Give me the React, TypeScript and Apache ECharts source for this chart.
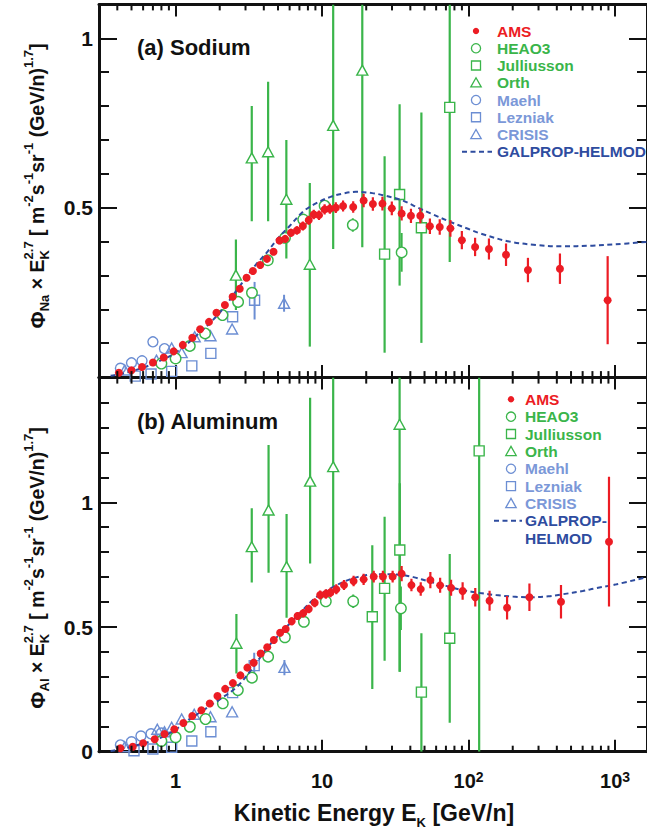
import React, { useEffect, useRef } from 'react';
import * as echarts from 'echarts';

const FONT = '"Liberation Sans", Arial, Helvetica, sans-serif';
const BLACK = '#111111';
const RED = '#ec1c24';
const GREEN = '#3ab54a';
const LBLUE = '#6c8ed3';
const LBLUE_TXT = '#7b98d8';
const DBLUE = '#2e4c9f';

// ---------- axes ----------
const X_MIN = 0.3;
const X_MAX = 1650;
const NA_Y_MAX = 1.1;
const AL_Y_MAX = 1.5;
const xTickValues = [1, 10, 100, 1000];
const xTickBase = ['1', '10', '10', '10'];
const xTickExp = ['', '', '2', '3'];
const xMinorTicks = [0.4, 0.5, 0.6, 0.7, 0.8, 0.9, 2, 3, 4, 5, 6, 7, 8, 9, 20, 30, 40, 50, 60, 70, 80, 90, 200, 300, 400, 500, 600, 700, 800, 900];
const naYTicks = [0.5, 1];
const naYTickLabels = ['0.5', '1'];
const alYTicks = [0, 0.5, 1];
const alYTickLabels = ['0', '0.5', '1'];

// ---------- (a) Sodium ----------
const naAmsE = [0.41, 0.50, 0.59, 0.70, 0.83, 0.97, 1.12, 1.30, 1.47, 1.69, 1.90, 2.17, 2.45, 2.74, 3.05, 3.37, 3.78, 4.20, 4.66, 5.12, 5.59, 6.13, 6.73, 7.39, 8.10, 8.77, 9.52, 10.4, 11.3, 12.4, 13.9, 16.3, 19.2, 22.2, 25.8, 29.9, 34.9, 40.4, 46.8, 54.4, 63.5, 75.1, 89.9, 110.7, 137.6, 180, 254, 420, 889];
const naAmsV = [0.013, 0.020, 0.030, 0.043, 0.058, 0.076, 0.095, 0.116, 0.141, 0.163, 0.190, 0.213, 0.237, 0.261, 0.293, 0.313, 0.331, 0.349, 0.370, 0.403, 0.408, 0.426, 0.433, 0.446, 0.463, 0.480, 0.478, 0.495, 0.497, 0.500, 0.505, 0.502, 0.521, 0.511, 0.512, 0.498, 0.483, 0.476, 0.476, 0.445, 0.443, 0.439, 0.404, 0.384, 0.378, 0.361, 0.316, 0.320, 0.227];
const naAmsErr = [0.003, 0.003, 0.003, 0.003, 0.003, 0.003, 0.004, 0.004, 0.004, 0.004, 0.005, 0.005, 0.005, 0.006, 0.006, 0.007, 0.008, 0.009, 0.010, 0.011, 0.011, 0.012, 0.012, 0.013, 0.013, 0.014, 0.014, 0.015, 0.015, 0.016, 0.016, 0.017, 0.020, 0.020, 0.020, 0.020, 0.021, 0.021, 0.022, 0.023, 0.023, 0.025, 0.027, 0.027, 0.031, 0.033, 0.036, 0.045, 0.13];

const naHeaoE = [0.80, 1.0, 1.25, 1.59, 2.09, 2.67, 3.32, 4.26, 5.58, 7.43, 10.4, 16.2, 34.9];
const naHeaoV = [0.040, 0.055, 0.092, 0.129, 0.183, 0.222, 0.249, 0.345, 0.411, 0.465, 0.506, 0.449, 0.368];
const naHeaoErr = [0, 0, 0, 0, 0, 0, 0, 0, 0, 0, 0, 0.02, 0.057];

const naJulE = [26.7, 33.8, 47.6, 74.3];
const naJulV = [0.363, 0.539, 0.441, 0.796];
const naJulLo = [0.072, 0.27, 0.101, 0.34];
const naJulHi = [0.652, 0.805, 0.781, 1.3];

const naOrthE = [2.58, 3.31, 4.28, 5.70, 8.24, 11.9, 18.8];
const naOrthV = [0.301, 0.647, 0.665, 0.525, 0.333, 0.743, 0.906];
const naOrthLo = [0.198, 0.46, 0.46, 0.35, 0.09, 0.378, 0.383];
const naOrthHi = [0.406, 0.80, 0.872, 0.70, 0.573, 1.3, 1.3];

const naMaehlE = [0.42, 0.50, 0.59, 0.70, 0.84];
const naMaehlV = [0.026, 0.042, 0.048, 0.104, 0.084];

const naLezE = [0.53, 0.68, 0.94, 1.29, 1.74, 2.45, 3.46];
const naLezV = [0.003, 0.009, 0.017, 0.033, 0.070, 0.178, 0.227];
const naLezLo = [null, null, null, null, null, null, 0.170];
const naLezHi = [null, null, null, null, null, null, 0.281];

const naCrisisE = [0.45, 0.74, 0.94, 1.10, 1.35, 1.73, 2.43, 5.50];
const naCrisisV = [0.021, 0.050, 0.086, 0.072, 0.119, 0.122, 0.142, 0.218];
const naCrisisErr = [0, 0, 0, 0, 0, 0, 0, 0.025];

const naGalE = [0.36, 0.45, 0.6, 0.8, 1.0, 1.4, 2.0, 2.6, 3.5, 4.2, 5.0, 6.0, 7.4, 9, 11.4, 14, 17, 22, 26, 35, 45, 55, 75, 100, 120, 190, 290, 430, 700, 1000, 1650];
const naGalV = [0.004, 0.012, 0.028, 0.05, 0.072, 0.124, 0.19, 0.255, 0.33, 0.368, 0.41, 0.446, 0.488, 0.512, 0.532, 0.542, 0.547, 0.543, 0.537, 0.522, 0.50, 0.483, 0.458, 0.437, 0.424, 0.40, 0.39, 0.386, 0.388, 0.392, 0.399];

// ---------- (b) Aluminum ----------
const alAmsE = [0.42, 0.51, 0.60, 0.72, 0.84, 0.98, 1.13, 1.30, 1.50, 1.71, 1.93, 2.18, 2.46, 2.77, 3.09, 3.41, 3.81, 4.22, 4.68, 5.17, 5.64, 6.2, 6.8, 7.43, 8.1, 8.9, 9.7, 10.6, 11.4, 12.5, 14.1, 16.4, 19.2, 22.5, 26, 30.3, 34.9, 40.7, 47.1, 54.8, 63.9, 75.9, 91, 111, 139, 183, 260, 427, 908];
const alAmsV = [0.014, 0.020, 0.034, 0.050, 0.071, 0.090, 0.115, 0.143, 0.166, 0.193, 0.223, 0.252, 0.275, 0.306, 0.337, 0.357, 0.394, 0.419, 0.448, 0.477, 0.492, 0.523, 0.544, 0.555, 0.572, 0.597, 0.628, 0.632, 0.638, 0.651, 0.668, 0.684, 0.691, 0.702, 0.702, 0.702, 0.714, 0.668, 0.652, 0.688, 0.667, 0.657, 0.644, 0.619, 0.605, 0.577, 0.619, 0.601, 0.842];
const alAmsErr = [0.004, 0.004, 0.004, 0.004, 0.004, 0.004, 0.005, 0.005, 0.005, 0.006, 0.006, 0.007, 0.007, 0.008, 0.009, 0.010, 0.011, 0.012, 0.013, 0.014, 0.015, 0.016, 0.016, 0.017, 0.017, 0.018, 0.018, 0.019, 0.019, 0.020, 0.020, 0.021, 0.023, 0.024, 0.024, 0.024, 0.031, 0.025, 0.027, 0.033, 0.030, 0.032, 0.035, 0.037, 0.040, 0.047, 0.055, 0.067, 0.26];

const alHeaoE = [0.80, 1.0, 1.25, 1.60, 2.10, 2.66, 3.32, 4.28, 5.57, 7.51, 10.6, 16.3, 34.5];
const alHeaoV = [0.043, 0.058, 0.100, 0.131, 0.194, 0.247, 0.297, 0.381, 0.459, 0.521, 0.603, 0.603, 0.575];
const alHeaoErr = [0, 0, 0, 0, 0, 0, 0, 0, 0, 0, 0, 0.027, 0.087];

const alJulE = [22, 26.7, 33.9, 47.6, 74.3, 118];
const alJulV = [0.541, 0.655, 0.809, 0.239, 0.455, 1.206];
const alJulLo = [0.251, 0.365, 0.321, -0.1, 0.116, -0.1];
const alJulHi = [0.828, 0.942, 1.076, 0.475, 0.793, 1.7];

const alOrthE = [2.60, 3.31, 4.31, 5.72, 8.28, 11.9, 33.8];
const alOrthV = [0.435, 0.822, 0.969, 0.742, 1.085, 1.143, 1.313];
const alOrthLo = [0.314, 0.678, 0.718, 0.537, 0.755, 0.662, 0.321];
const alOrthHi = [0.552, 0.976, 1.23, 0.953, 1.419, 1.7, 1.7];

const alMaehlE = [0.42, 0.50, 0.58, 0.68, 0.80];
const alMaehlV = [0.027, 0.040, 0.063, 0.072, 0.075];

const alLezE = [0.52, 0.70, 0.94, 1.29, 1.74, 2.45, 3.44];
const alLezV = [0.004, 0.011, 0.018, 0.043, 0.080, 0.237, 0.345];
const alLezLo = [null, null, null, null, null, null, 0.287];
const alLezHi = [null, null, null, null, null, null, 0.397];

const alCrisisE = [0.45, 0.75, 0.84, 0.94, 1.10, 1.34, 1.73, 2.43, 5.53];
const alCrisisV = [0.020, 0.090, 0.080, 0.098, 0.131, 0.150, 0.140, 0.160, 0.338];
const alCrisisLo = [null, null, null, null, null, null, null, null, 0.307];
const alCrisisHi = [null, null, null, null, null, null, null, null, 0.368];

const alGalE = [0.36, 0.5, 0.84, 1.41, 2.0, 2.63, 3.4, 4.2, 5.5, 6.7, 8.8, 11.4, 15, 19.2, 25, 32, 42, 54, 70, 91, 120, 154, 200, 260, 350, 435, 600, 730, 1000, 1650];
const alGalV = [0.003, 0.02, 0.063, 0.151, 0.21, 0.261, 0.34, 0.415, 0.49, 0.541, 0.612, 0.655, 0.688, 0.706, 0.712, 0.711, 0.70, 0.682, 0.665, 0.648, 0.636, 0.628, 0.622, 0.619, 0.623, 0.631, 0.644, 0.655, 0.67, 0.70];

// ---------- legend ----------
const legendNames = ['AMS', 'HEAO3', 'Julliusson', 'Orth', 'Maehl', 'Lezniak', 'CRISIS'];
const legendColors = [RED, GREEN, GREEN, GREEN, LBLUE_TXT, LBLUE_TXT, LBLUE_TXT];
const legendMarkers = ['dot', 'circle', 'square', 'triangle', 'circle', 'square', 'triangle'];
const modelName = 'GALPROP-HELMOD';

// ---------- helpers ----------
const zip = (E: number[], V: number[]) => E.map((e, i) => [e, V[i]]);
const barsErr = (E: number[], V: number[], err: number[]) =>
  E.map((e, i) => [e, V[i] - err[i], V[i] + err[i], err[i]]).filter((d) => d[3] > 0).map((d) => [d[0], d[1], d[2]]);
const barsLH = (E: number[], lo: (number | null)[], hi: (number | null)[]) =>
  E.map((e, i) => [e, lo[i], hi[i]]).filter((d) => d[1] !== null) as number[][];

function errSeries(name: string, data: number[][], color: string, width: number, xi: number, yi: number, z: number) {
  return {
    type: 'custom', name, xAxisIndex: xi, yAxisIndex: yi, silent: true, z, clip: true,
    data, encode: { x: 0, y: [1, 2] },
    renderItem: (params: any, api: any) => {
      const cs = params.coordSys;
      const p1 = api.coord([api.value(0), api.value(1)]);
      const p2 = api.coord([api.value(0), api.value(2)]);
      const clamp = (y: number) => Math.min(Math.max(y, cs.y), cs.y + cs.height);
      return { type: 'line', shape: { x1: p1[0], y1: clamp(p1[1]), x2: p2[0], y2: clamp(p2[1]) }, style: { stroke: color, lineWidth: width } };
    },
  };
}

function scatterSeries(name: string, data: number[][], symbol: string, size: any, fill: string, stroke: string | null, xi: number, yi: number, z: number) {
  return {
    type: 'scatter', name, xAxisIndex: xi, yAxisIndex: yi, symbol, symbolSize: size, z, silent: true,
    data,
    itemStyle: { color: fill, borderColor: stroke || fill, borderWidth: stroke ? 1.4 : 0, opacity: 1 },
  };
}

function minorTickSeries(xi: number, yi: number) {
  return {
    type: 'custom', xAxisIndex: xi, yAxisIndex: yi, silent: true, z: 10, clip: false,
    data: xMinorTicks.map((v) => [v, 0]),
    renderItem: (params: any, api: any) => {
      const cs = params.coordSys;
      const x = api.coord([api.value(0), 0])[0];
      return {
        type: 'group', children: [
          { type: 'line', shape: { x1: x, y1: cs.y + cs.height, x2: x, y2: cs.y + cs.height - 6 }, style: { stroke: BLACK, lineWidth: 2 } },
          { type: 'line', shape: { x1: x, y1: cs.y, x2: x, y2: cs.y + 6 }, style: { stroke: BLACK, lineWidth: 2 } },
        ],
      };
    },
  };
}

type Seg = { t: string; s: number; dy: number; stack?: boolean };
function buildMath(segs: Seg[], color: string) {
  const ctx = document.createElement('canvas').getContext('2d') as CanvasRenderingContext2D;
  const widths = segs.map((sg) => { ctx.font = `bold ${sg.s}px ${FONT}`; return ctx.measureText(sg.t).width; });
  const xs: number[] = [];
  let cursor = 0;
  let lastStart = 0;
  segs.forEach((sg, i) => {
    if (sg.stack) { xs.push(lastStart); cursor = Math.max(cursor, lastStart + widths[i]); }
    else { xs.push(cursor); lastStart = cursor; cursor += widths[i]; }
  });
  const total = cursor;
  return segs.map((sg, i) => ({
    type: 'text', x: xs[i] - total / 2, y: sg.dy,
    style: { text: sg.t, fontSize: sg.s, fontWeight: 'bold', fontFamily: FONT, fill: color, align: 'left', verticalAlign: 'middle', textAlign: 'left', textVerticalAlign: 'middle' },
  }));
}

function yTitleSegs(el: string): Seg[] {
  return [
    { t: 'Φ', s: 21, dy: 0 },
    { t: el, s: 13, dy: 7 },
    { t: ' × E', s: 19.5, dy: 0 },
    { t: 'K', s: 13, dy: 7 },
    { t: '2.7', s: 13, dy: -9, stack: true },
    { t: ' [ m', s: 19.5, dy: 0 },
    { t: '-2', s: 13, dy: -9 },
    { t: 's', s: 19.5, dy: 0 },
    { t: '-1', s: 13, dy: -9 },
    { t: 'sr', s: 19.5, dy: 0 },
    { t: '-1', s: 13, dy: -9 },
    { t: ' (GeV/n)', s: 19.5, dy: 0 },
    { t: '1.7', s: 13, dy: -9 },
    { t: ']', s: 19.5, dy: 0 },
  ];
}

function legendGraphics(mx: number, tx: number, y0: number, step: number, lineX1: number, lineX2: number, modelLines: string[]) {
  const els: any[] = [];
  legendNames.forEach((name, i) => {
    const y = y0 + i * step;
    const col = i === 0 ? RED : i < 4 ? GREEN : LBLUE;
    const m = legendMarkers[i];
    if (m === 'dot') els.push({ type: 'circle', shape: { cx: mx, cy: y, r: 3.2 }, style: { fill: col } });
    if (m === 'circle') els.push({ type: 'circle', shape: { cx: mx, cy: y, r: 4.6 }, style: { fill: 'none', stroke: col, lineWidth: 1.3 } });
    if (m === 'square') els.push({ type: 'rect', shape: { x: mx - 4.5, y: y - 4.5, width: 9, height: 9 }, style: { fill: 'none', stroke: col, lineWidth: 1.3 } });
    if (m === 'triangle') els.push({ type: 'polygon', shape: { points: [[mx, y - 5], [mx - 5.2, y + 4.2], [mx + 5.2, y + 4.2]] }, style: { fill: 'none', stroke: col, lineWidth: 1.3 } });
    els.push({ type: 'text', x: tx, y, style: { text: name, fontSize: 15.5, fontWeight: 'bold', fontFamily: FONT, fill: legendColors[i], align: 'left', verticalAlign: 'middle', textAlign: 'left', textVerticalAlign: 'middle' } });
  });
  const yl = y0 + legendNames.length * step;
  els.push({ type: 'line', shape: { x1: lineX1, y1: yl, x2: lineX2, y2: yl }, style: { stroke: DBLUE, lineWidth: 2, lineDash: [5, 3.5] } });
  modelLines.forEach((t, k) => {
    els.push({ type: 'text', x: tx, y: yl + k * step, style: { text: t, fontSize: 15.5, fontWeight: 'bold', fontFamily: FONT, fill: DBLUE, align: 'left', verticalAlign: 'middle', textAlign: 'left', textVerticalAlign: 'middle' } });
  });
  return els;
}

function buildOption() {
  const xAxis = (gridIndex: number, position: string, labels: boolean) => ({
    type: 'log', logBase: 10, gridIndex, position, min: X_MIN, max: X_MAX,
    axisLine: { show: true, onZero: false, lineStyle: { color: BLACK, width: 3 } },
    axisTick: { show: true, inside: true, length: 12, lineStyle: { color: BLACK, width: 2 } },
    splitLine: { show: false },
    axisLabel: labels ? {
      show: true, margin: 18, showMinLabel: false, showMaxLabel: false,
      formatter: (v: number) => {
        const i = xTickValues.findIndex((t) => Math.abs(Math.log10(v / t)) < 0.01);
        if (i < 0) return '';
        return xTickExp[i] ? `{b|${xTickBase[i]}}{sup|${xTickExp[i]}}` : `{b|${xTickBase[i]}}`;
      },
      rich: {
        b: { fontSize: 20, fontWeight: 'bold', fontFamily: FONT, color: BLACK, lineHeight: 22 },
        sup: { fontSize: 14, fontWeight: 'bold', fontFamily: FONT, color: BLACK, lineHeight: 14, verticalAlign: 'top' },
      },
    } : { show: false },
  });
  const yMajor = (gridIndex: number, position: string, max: number, ticks: number[] | null, labels: string[] | null) => ({
    type: 'value', gridIndex, position, min: 0, max, interval: 0.5,
    axisLine: { show: true, onZero: false, lineStyle: { color: BLACK, width: 3 } },
    axisTick: { show: true, inside: true, length: 18, lineStyle: { color: BLACK, width: 2 } },
    splitLine: { show: false },
    axisLabel: ticks ? {
      show: true, margin: 6, fontSize: 21, fontWeight: 'bold', fontFamily: FONT, color: BLACK,
      showMaxLabel: false,
      formatter: (v: number) => { const i = ticks.findIndex((t) => Math.abs(t - v) < 1e-6); return i < 0 ? '' : (labels as string[])[i]; },
    } : { show: false },
  });
  const yMinor = (gridIndex: number, position: string, max: number) => ({
    type: 'value', gridIndex, position, min: 0, max, interval: 0.1,
    axisLine: { show: false },
    axisTick: { show: true, inside: true, length: 10, lineStyle: { color: BLACK, width: 2 } },
    splitLine: { show: false },
    axisLabel: { show: false },
  });

  const panelSeries = (xi: number, yi: number, d: any) => [
    minorTickSeries(xi, yi),
    errSeries('HEAO3 errors', barsErr(d.heaoE, d.heaoV, d.heaoErr), GREEN, 2, xi, yi, 2),
    errSeries('Julliusson errors', barsLH(d.julE, d.julLo, d.julHi), GREEN, 2.2, xi, yi, 2),
    errSeries('Orth errors', barsLH(d.orthE, d.orthLo, d.orthHi), GREEN, 2.2, xi, yi, 2),
    errSeries('Lezniak errors', barsLH(d.lezE, d.lezLo, d.lezHi), LBLUE, 2, xi, yi, 2),
    errSeries('CRISIS errors', d.crisisBars, LBLUE, 2, xi, yi, 2),
    scatterSeries('Maehl', zip(d.maehlE, d.maehlV), 'circle', 10, 'rgba(255,255,255,0)', LBLUE, xi, yi, 3),
    scatterSeries('Lezniak', zip(d.lezE, d.lezV), 'rect', 10, 'rgba(255,255,255,0)', LBLUE, xi, yi, 3),
    scatterSeries('CRISIS', zip(d.crisisE, d.crisisV), 'triangle', [11, 10], 'rgba(255,255,255,0)', LBLUE, xi, yi, 3),
    scatterSeries('HEAO3', zip(d.heaoE, d.heaoV), 'circle', 10.5, '#ffffff', GREEN, xi, yi, 3),
    scatterSeries('Julliusson', zip(d.julE, d.julV), 'rect', 10, '#ffffff', GREEN, xi, yi, 3),
    scatterSeries('Orth', zip(d.orthE, d.orthV), 'triangle', [11, 10], '#ffffff', GREEN, xi, yi, 3),
    {
      type: 'line', name: modelName, xAxisIndex: xi, yAxisIndex: yi, data: zip(d.galE, d.galV), smooth: 0.35,
      symbol: 'none', silent: true, z: 4, lineStyle: { color: DBLUE, width: 2, type: [5, 3.5] },
    },
    errSeries('AMS errors', barsErr(d.amsE, d.amsV, d.amsErr), RED, 2.2, xi, yi, 5),
    scatterSeries('AMS', zip(d.amsE, d.amsV), 'circle', 8, RED, null, xi, yi, 6),
  ];

  const na = {
    amsE: naAmsE, amsV: naAmsV, amsErr: naAmsErr, heaoE: naHeaoE, heaoV: naHeaoV, heaoErr: naHeaoErr,
    julE: naJulE, julV: naJulV, julLo: naJulLo, julHi: naJulHi, orthE: naOrthE, orthV: naOrthV, orthLo: naOrthLo, orthHi: naOrthHi,
    maehlE: naMaehlE, maehlV: naMaehlV, lezE: naLezE, lezV: naLezV, lezLo: naLezLo, lezHi: naLezHi,
    crisisE: naCrisisE, crisisV: naCrisisV, crisisBars: barsErr(naCrisisE, naCrisisV, naCrisisErr), galE: naGalE, galV: naGalV,
  };
  const al = {
    amsE: alAmsE, amsV: alAmsV, amsErr: alAmsErr, heaoE: alHeaoE, heaoV: alHeaoV, heaoErr: alHeaoErr,
    julE: alJulE, julV: alJulV, julLo: alJulLo, julHi: alJulHi, orthE: alOrthE, orthV: alOrthV, orthLo: alOrthLo, orthHi: alOrthHi,
    maehlE: alMaehlE, maehlV: alMaehlV, lezE: alLezE, lezV: alLezV, lezLo: alLezLo, lezHi: alLezHi,
    crisisE: alCrisisE, crisisV: alCrisisV, crisisBars: barsLH(alCrisisE, alCrisisLo, alCrisisHi), galE: alGalE, galV: alGalV,
  };

  const textStyle = (size: number) => ({ fontSize: size, fontWeight: 'bold', fontFamily: FONT, fill: BLACK, align: 'left', verticalAlign: 'middle', textAlign: 'left', textVerticalAlign: 'middle' });

  return {
    animation: false,
    backgroundColor: '#ffffff',
    grid: [
      { left: 99, top: 4.4, width: 553, height: 372.7, containLabel: false },
      { left: 99, top: 377.6, width: 553, height: 374.1, containLabel: false },
    ],
    xAxis: [xAxis(0, 'bottom', false), xAxis(0, 'top', false), xAxis(1, 'bottom', true), xAxis(1, 'top', false)],
    yAxis: [
      yMajor(0, 'left', NA_Y_MAX, naYTicks, naYTickLabels), yMinor(0, 'left', NA_Y_MAX),
      yMajor(0, 'right', NA_Y_MAX, null, null), yMinor(0, 'right', NA_Y_MAX),
      yMajor(1, 'left', AL_Y_MAX, alYTicks, alYTickLabels), yMinor(1, 'left', AL_Y_MAX),
      yMajor(1, 'right', AL_Y_MAX, null, null), yMinor(1, 'right', AL_Y_MAX),
    ],
    series: [...panelSeries(0, 0, na), ...panelSeries(2, 4, al)],
    graphic: [
      { type: 'text', x: 137, y: 47, z: 20, style: { text: '(a) Sodium', ...textStyle(22) } },
      { type: 'text', x: 137, y: 421, z: 20, style: { text: '(b) Aluminum', ...textStyle(22) } },
      { type: 'group', z: 20, children: legendGraphics(476, 497, 31, 17.25, 462, 492, [modelName]) },
      { type: 'group', z: 20, children: legendGraphics(511, 525, 399.3, 17.35, 494, 522, ['GALPROP-', 'HELMOD']) },
      { type: 'group', x: 37, y: 186, rotation: Math.PI / 2, z: 20, children: buildMath(yTitleSegs('Na'), BLACK) },
      { type: 'group', x: 37, y: 568, rotation: Math.PI / 2, z: 20, children: buildMath(yTitleSegs('Al'), BLACK) },
      {
        type: 'group', x: 374, y: 813, z: 20, children: buildMath([
          { t: 'Kinetic Energy E', s: 23, dy: 0 },
          { t: 'K', s: 13, dy: 9 },
          { t: ' [GeV/n]', s: 23, dy: 0 },
        ], BLACK),
      },
    ],
  };
}

export default function App() {
  const ref = useRef<HTMLDivElement>(null);
  useEffect(() => {
    if (!ref.current) return;
    const chart = echarts.init(ref.current, null, { renderer: 'svg' });
    chart.setOption(buildOption() as any);
    return () => chart.dispose();
  }, []);
  return <div ref={ref} style={{ position: 'absolute', left: 0, top: 0, width: 647, height: 832, background: '#fff' }} />;
}
